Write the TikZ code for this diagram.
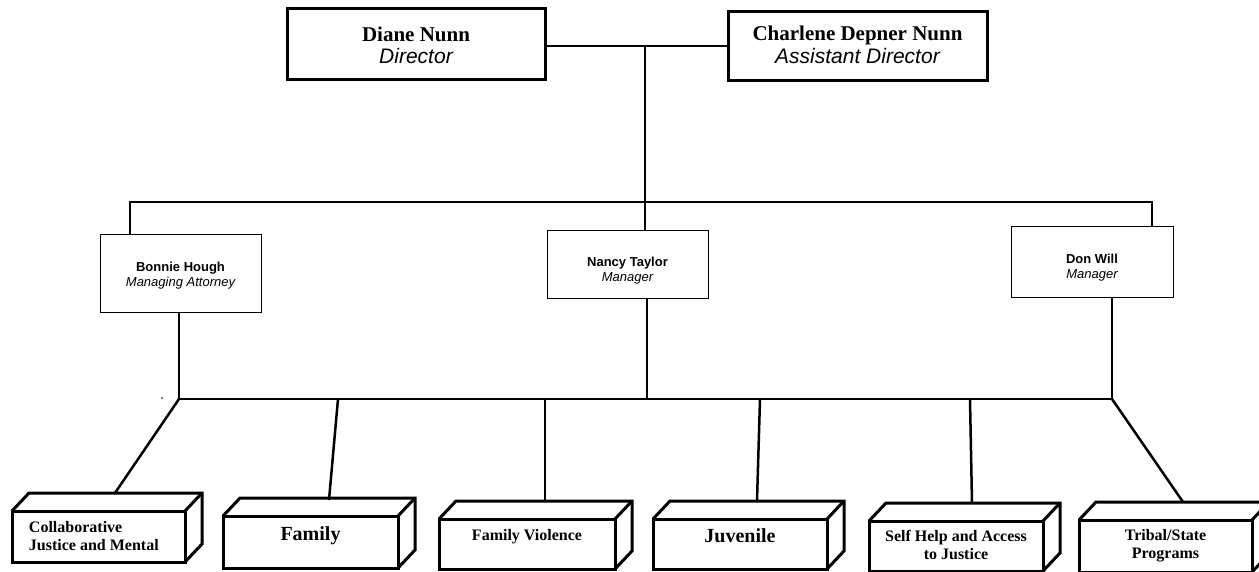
\documentclass[tikz,border=0pt]{standalone}
\usepackage{fontspec}
\setmainfont{Liberation Serif}
\setsansfont{Liberation Sans}
\usetikzlibrary{calc}
\newcommand\bxt[4]{\parbox[t][#2][t]{#1}{\centering\rule{0pt}{#3}#4}}
\newcommand\bxl[4]{\parbox[t][#2][t]{#1}{\raggedright\leftskip=17pt\rule{0pt}{#3}#4}}
\newcommand\threed[1]{%
  \draw[face] (#1.north west) -- ++(17,-18) -- ($(#1.north east)+(17,-18)$) -- ($(#1.south east)+(17,-18)$) -- (#1.south east);
  \draw[face] (#1.north east) -- ++(17,-18);}
\tikzset{
  topbox/.style={draw, line width=3pt, inner sep=0pt, outer sep=0pt, anchor=north west},
  midbox/.style={draw, line width=1pt, inner sep=0pt, outer sep=0pt, anchor=north west},
  front/.style={draw, line width=3pt, inner sep=0pt, outer sep=0pt, anchor=north west},
  face/.style={line width=3pt, line join=miter},
  conn/.style={line width=2.5pt}
}
\begin{document}
\begin{tikzpicture}[x=1pt,y=-1pt]
\useasboundingbox (0,0) rectangle (1259,572);
\clip (0,0) rectangle (1259,572);
% top boxes
\node[topbox] (diane) at (287,9) {\bxt{258pt}{71pt}{33pt}{\fontsize{21}{22}\selectfont\textbf{Diane Nunn}\\\sffamily\itshape Director}};
\node[topbox] (charlene) at (728,12) {\bxt{259pt}{69pt}{29pt}{\fontsize{21}{23}\selectfont\textbf{Charlene Depner Nunn}\\\sffamily\itshape Assistant Director}};
% middle boxes
\node[midbox] (bonnie) at (100,235) {\bxt{161pt}{77pt}{37pt}{\fontsize{13}{14.5}\selectfont\sffamily\textbf{Bonnie Hough}\\\itshape Managing Attorney}};
\node[midbox] (nancy) at (547,231) {\bxt{161pt}{68pt}{36pt}{\fontsize{13}{15}\selectfont\sffamily\textbf{Nancy Taylor}\\\itshape Manager}};
\node[midbox] (don) at (1011,227) {\bxt{162pt}{71pt}{37pt}{\fontsize{13}{14.5}\selectfont\sffamily\textbf{Don Will}\\\itshape Manager}};
% bottom 3D boxes
\node[front] (cj) at (12,511) {\bxl{173pt}{51pt}{21pt}{\fontsize{16}{18}\selectfont\bfseries Collaborative\\Justice and Mental}};
\node[front] (fam) at (223,516) {\bxt{175pt}{52pt}{24pt}{\fontsize{20}{22}\selectfont\bfseries Family}};
\node[front] (fv) at (439,519) {\bxt{176pt}{50pt}{21pt}{\fontsize{16}{18}\selectfont\bfseries Family Violence}};
\node[front] (juv) at (653,519) {\bxt{174pt}{50pt}{23pt}{\fontsize{20}{22}\selectfont\bfseries Juvenile}};
\node[front] (sh) at (869,521) {\bxt{174pt}{50pt}{20pt}{\fontsize{16}{18}\selectfont\bfseries Self Help and Access\\to Justice}};
\node[front] (tri) at (1079,520) {\bxt{173pt}{52pt}{20pt}{\fontsize{16}{18}\selectfont\bfseries Tribal/State\\Programs}};
\threed{cj}\threed{fam}\threed{fv}\threed{juv}\threed{sh}\threed{tri}
% coordinates
\coordinate (j) at (645,46);
\coordinate (topL) at (130,202);
\coordinate (topM) at (645,202);
\coordinate (topR) at (1152,202);
\coordinate (busL) at (179,399);
\coordinate (busN) at (647,399);
\coordinate (busR) at (1112,399);
\coordinate (bfam) at (338,399);
\coordinate (bfv) at (545,399);
\coordinate (bjuv) at (760,399);
\coordinate (bsh) at (970,399);
\coordinate (cjt) at (115,493);
\coordinate (famt) at (329,500);
\coordinate (fvt) at (545,501);
\coordinate (juvt) at (757,501);
\coordinate (sht) at (972,503);
\coordinate (trit) at (1183,502);
% connectors top
\draw[conn] (diane.east |- j) -- (charlene.west |- j);
\draw[conn] (j) -- (topM);
\draw[conn] (bonnie.north -| topL) -- (topL) -- (topR) -- (don.north -| topR);
\draw[conn] (topM) -- (nancy.north -| topM);
% connectors bottom
\draw[conn] (bonnie.south -| busL) -- (busL) -- (busR) -- (don.south -| busR);
\draw[conn] (nancy.south -| busN) -- (busN);
\draw[conn] (busL) -- (cjt);
\draw[conn] (bfam) -- (famt);
\draw[conn] (bfv) -- (fvt);
\draw[conn] (bjuv) -- (juvt);
\draw[conn] (bsh) -- (sht);
\draw[conn] (busR) -- (trit);
\fill (162,398) circle (0.8);
\end{tikzpicture}
\end{document}
